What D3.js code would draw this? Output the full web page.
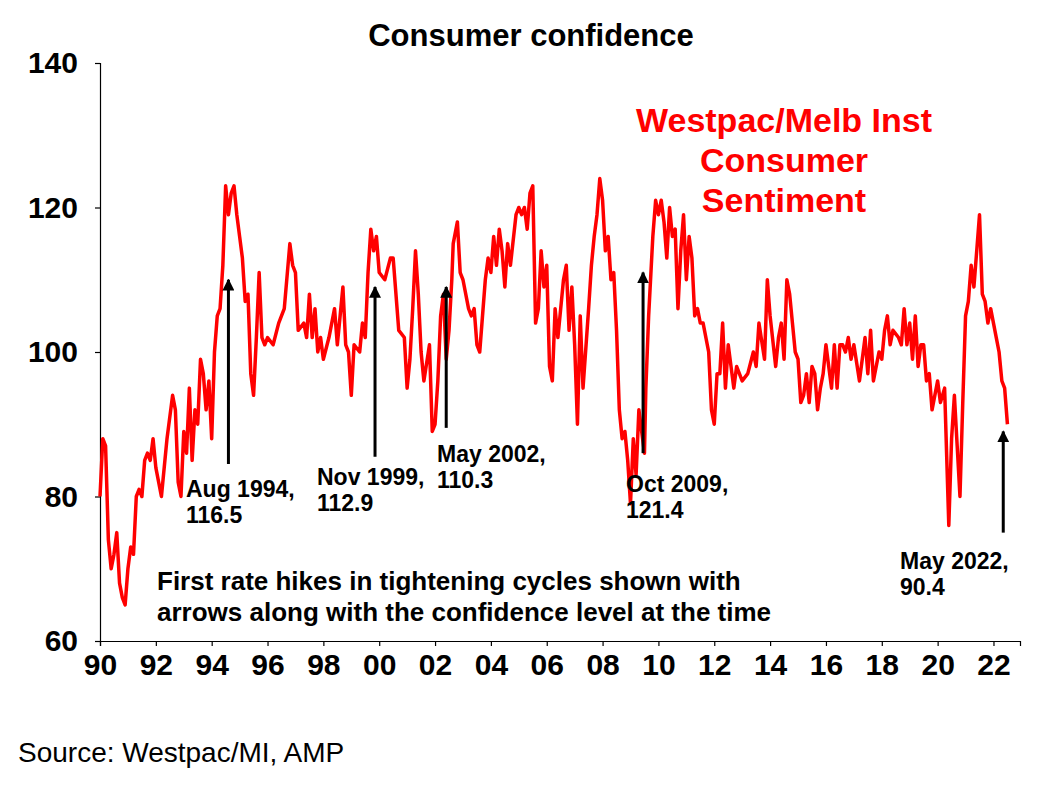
<!DOCTYPE html>
<html lang="en">
<head>
<meta charset="UTF-8" />
<title>Consumer confidence</title>
<script src="https://d3js.org/d3.v7.min.js"></script>
<style>
  body { margin: 0; background: #fff; font-family: Arial, "Liberation Sans", sans-serif; }
</style>
</head>
<body>
<div id="chart"></div>
<script>
// decimal-year dates and index values
const dates = [1990.0,1990.1,1990.2,1990.3,1990.4,1990.5,1990.6,1990.7,1990.8,1990.9,1991.0,1991.1,1991.2,1991.3,1991.4,1991.5,1991.6,1991.7,1991.8,1991.9,1992.0,1992.2,1992.4,1992.6,1992.7,1992.8,1992.9,1993.0,1993.1,1993.2,1993.3,1993.4,1993.5,1993.6,1993.7,1993.8,1993.9,1994.0,1994.1,1994.2,1994.3,1994.4,1994.5,1994.6,1994.7,1994.8,1994.9,1995.0,1995.1,1995.2,1995.3,1995.4,1995.5,1995.6,1995.7,1995.8,1995.9,1996.0,1996.2,1996.4,1996.6,1996.8,1996.9,1997.0,1997.1,1997.3,1997.4,1997.5,1997.6,1997.7,1997.8,1997.9,1998.0,1998.2,1998.4,1998.5,1998.7,1998.8,1998.9,1999.0,1999.1,1999.3,1999.4,1999.5,1999.6,1999.7,1999.8,1999.9,2000.0,2000.2,2000.4,2000.5,2000.7,2000.9,2001.0,2001.1,2001.2,2001.3,2001.4,2001.5,2001.6,2001.8,2001.9,2002.0,2002.1,2002.2,2002.3,2002.4,2002.5,2002.6,2002.65,2002.8,2002.9,2003.0,2003.2,2003.3,2003.4,2003.5,2003.6,2003.8,2003.9,2004.0,2004.1,2004.2,2004.3,2004.4,2004.5,2004.6,2004.7,2004.9,2005.0,2005.1,2005.2,2005.3,2005.4,2005.5,2005.6,2005.7,2005.8,2005.9,2006.0,2006.1,2006.2,2006.3,2006.4,2006.5,2006.6,2006.7,2006.8,2006.9,2007.0,2007.1,2007.2,2007.3,2007.5,2007.6,2007.7,2007.8,2007.9,2008.0,2008.1,2008.2,2008.3,2008.4,2008.5,2008.6,2008.7,2008.8,2008.9,2009.0,2009.1,2009.2,2009.3,2009.4,2009.5,2009.55,2009.65,2009.8,2009.9,2010.0,2010.1,2010.2,2010.3,2010.4,2010.5,2010.6,2010.7,2010.8,2010.9,2011.0,2011.1,2011.2,2011.3,2011.4,2011.5,2011.6,2011.8,2011.9,2012.0,2012.1,2012.2,2012.3,2012.4,2012.5,2012.7,2012.8,2013.0,2013.2,2013.4,2013.5,2013.6,2013.8,2013.9,2014.0,2014.2,2014.3,2014.4,2014.5,2014.6,2014.7,2014.8,2014.9,2015.0,2015.1,2015.2,2015.3,2015.4,2015.5,2015.6,2015.7,2015.8,2015.9,2016.0,2016.1,2016.2,2016.3,2016.4,2016.5,2016.6,2016.7,2016.8,2016.9,2017.0,2017.2,2017.3,2017.4,2017.5,2017.6,2017.7,2017.9,2018.0,2018.1,2018.2,2018.3,2018.4,2018.6,2018.7,2018.8,2018.9,2019.0,2019.1,2019.2,2019.3,2019.4,2019.5,2019.6,2019.7,2019.8,2019.9,2020.0,2020.1,2020.25,2020.4,2020.5,2020.6,2020.7,2020.8,2020.9,2021.0,2021.1,2021.2,2021.3,2021.4,2021.5,2021.6,2021.7,2021.8,2021.9,2022.0,2022.1,2022.2,2022.3,2022.4,2022.5];
const values = [80,88,87,74,70,72,75,68,66,65,70,73,72,80,81,80,85,86,85,88,84,80,88,94,92,82,80,89,86,95,85,92,90,99,97,92,96,88,100,105,106,112,123,119,122,123,119,116,113,107,108,97,94,102,111,102,101,102,101,104,106,115,112,111,103,104,102,108,102,106,100,102,99,102,106,101,109,101,100,94,101,100,104,102,111,117,114,116,111,110,113,113,103,102,95,99,106,114,108,100,96,101,89,90,96,105,108,99,103,110,115,118,111,110,106,105,106,101,100,110,113,111,116,112,117,114,109,115,112,119,120,119,120,117,122,123,104,106,114,109,112,98,96,106,102,106,110,112,103,109,101,90,105,95,106,112,116,119,124,121,114,116,110,111,103,92,88,89,85,79,88,83,92,89,86,95,105,116,121,119,121,118,113,120,116,117,106,114,119,110,116,113,105,106,104,104,100,92,90,97,97,104,95,101,95,98,96,97,100,98,104,99,110,105,98,102,104,99,110,108,104,100,99,93,94,97,93,98,97,92,95,97,101,98,95,101,95,101,101,100,102,99,101,96,99,102,97,103,96,100,99,103,105,101,103,102,101,106,101,104,99,105,98,101,101,96,97,92,94,96,93,95,76,88,94,87,80,93,105,107,112,109,114,119,108,107,104,106,104,102,100,96,95,90,86];

const xTicks = [1990,1992,1994,1996,1998,2000,2002,2004,2006,2008,2010,2012,2014,2016,2018,2020,2022];
const yTicks = [60,80,100,120,140];

// first rate hikes: date, arrow tip, arrow tail, label lines
const hikeDates = [1994.6, 1999.85, 2002.4, 2009.45, 2022.35];
const hikeTips = [110, 109, 109, 111, 89];
const hikeTails = [84.5, 85.5, 89.5, 86, 75];
const hikeLabels = [["Aug 1994,","116.5"],["Nov 1999,","112.9"],["May 2002,","110.3"],["Oct 2009,","121.4"],["May 2022,","90.4"]];

const W = 1038, H = 786;
const margin = { top: 63, right: 18, bottom: 145, left: 100 };
const svg = d3.select("#chart").append("svg").attr("width", W).attr("height", H);

const x = d3.scaleLinear().domain([1990, 2022.95]).range([margin.left, W - margin.right]);
const y = d3.scaleLinear().domain([60, 140]).range([H - margin.bottom, margin.top]);

svg.append("defs").append("marker")
  .attr("id", "ah").attr("viewBox", "0 0 10 10").attr("refX", 9).attr("refY", 5)
  .attr("markerWidth", 4).attr("markerHeight", 4).attr("orient", "auto")
  .append("path").attr("d", "M0,0L10,5L0,10z").attr("fill", "#000");

svg.append("g")
  .attr("transform", `translate(0,${H - margin.bottom})`)
  .call(d3.axisBottom(x).tickValues(xTicks).tickSize(5).tickFormat(d => String(d % 100).padStart(2, "0")))
  .call(g => g.selectAll("text").attr("dy", "0.85em").style("font-size", "30px").style("font-weight", "bold"));

svg.append("g")
  .attr("transform", `translate(${margin.left},0)`)
  .call(d3.axisLeft(y).tickValues(yTicks).tickSize(5).tickPadding(17))
  .call(g => g.selectAll("text").style("font-size", "30px").style("font-weight", "bold"));

svg.selectAll(".domain, .tick line").attr("stroke", "#000").attr("stroke-width", 1.2);
svg.selectAll(".tick text").attr("fill", "#000").style("font-family", "Arial, 'Liberation Sans', sans-serif");

const line = d3.line().x((d, i) => x(dates[i])).y(d => y(d));
svg.append("path").datum(values).attr("fill", "none").attr("stroke", "#ff0000")
  .attr("stroke-width", 3.5).attr("stroke-linejoin", "round").attr("d", line);

hikeDates.forEach((d, i) => {
  svg.append("line").attr("x1", x(d)).attr("x2", x(d))
    .attr("y1", y(hikeTails[i])).attr("y2", y(hikeTips[i]))
    .attr("stroke", "#000").attr("stroke-width", 3).attr("marker-end", "url(#ah)");
});

const labelPos = [[186,497],[317,485],[437,462],[626,492],[900,569]];
hikeLabels.forEach((lines, i) => {
  const t = svg.append("text").attr("x", labelPos[i][0]).attr("y", labelPos[i][1])
    .style("font-size", "23px").style("font-weight", "bold");
  lines.forEach((s, j) => t.append("tspan").attr("x", labelPos[i][0]).attr("dy", j ? 26 : 0).text(s));
});

svg.append("text").attr("x", 531).attr("y", 46).attr("text-anchor", "middle")
  .style("font-size", "31px").style("font-weight", "bold").text("Consumer confidence");

["Westpac/Melb Inst", "Consumer", "Sentiment"].forEach((s, i) => {
  svg.append("text").attr("x", 784).attr("y", 132 + i * 40).attr("text-anchor", "middle")
    .attr("fill", "#ff0000").style("font-size", "34px").style("font-weight", "bold").text(s);
});

["First rate hikes in tightening cycles shown with", "arrows along with the confidence level at the time"].forEach((s, i) => {
  svg.append("text").attr("x", 157).attr("y", 590 + i * 31)
    .style("font-size", "26px").style("font-weight", "bold").text(s);
});

svg.append("text").attr("x", 18).attr("y", 762).style("font-size", "28px").text("Source: Westpac/MI, AMP");
</script>
</body>
</html>
